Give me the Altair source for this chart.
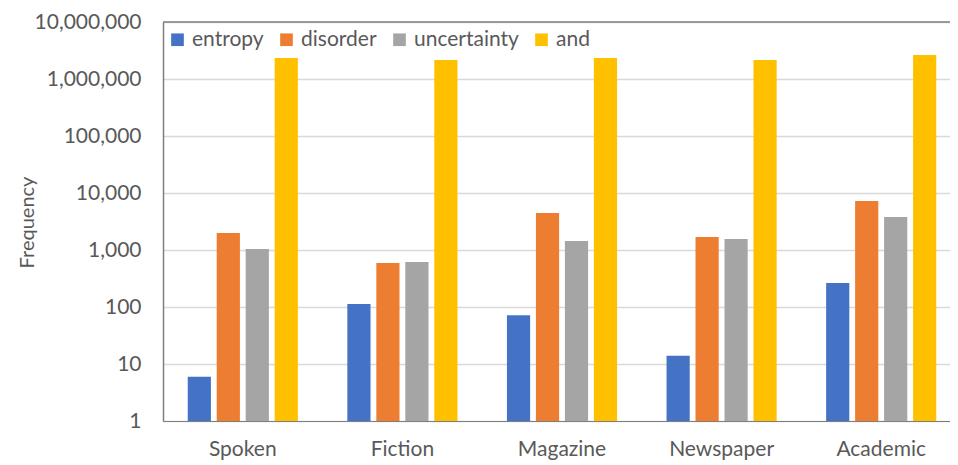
import altair as alt
import pandas as pd

genres = ["Spoken", "Fiction", "Magazine", "Newspaper", "Academic"]
series = ["entropy", "disorder", "uncertainty", "and"]
entropy = [6, 113, 72, 14, 265]
disorder = [1990, 590, 4450, 1690, 7250]
uncertainty = [1040, 615, 1440, 1560, 3800]
and_ = [2330000, 2150000, 2330000, 2150000, 2640000]
colors = ["#4472C4", "#ED7D31", "#A5A5A5", "#FFC000"]
y_ticks = [1, 10, 100, 1000, 10000, 100000, 1000000, 10000000]
y_base = 1
y_top = 10000000

rows = []
for name, vals in zip(series, [entropy, disorder, uncertainty, and_]):
    for g, v in zip(genres, vals):
        rows.append({"genre": g, "series": name, "value": v, "base": y_base})
df = pd.DataFrame(rows)

FONT = "Lato"
GRAY = "#595959"
BORDER = "#7f7f7f"

yscale = alt.Scale(type="log", domain=[1, 10000000], nice=False)

bars = alt.Chart(df).mark_bar().encode(
    x=alt.X("genre:N", sort=genres,
            scale=alt.Scale(paddingInner=0.31, paddingOuter=0.155, range=[0, 798]),
            axis=alt.Axis(title=None, labelAngle=0, labelFont=FONT, labelFontSize=21,
                          labelColor=GRAY, labelPadding=17, ticks=False,
                          domainColor=BORDER, domainWidth=1)),
    xOffset=alt.XOffset("series:N", sort=series,
                        scale=alt.Scale(paddingInner=0.2, paddingOuter=0)),
    y=alt.Y("value:Q", scale=yscale,
            axis=alt.Axis(title="Frequency", values=y_ticks, format=",",
                          labelFont=FONT, labelFontSize=21, labelColor=GRAY,
                          labelPadding=22, ticks=False, domain=True,
                          domainColor=BORDER, domainWidth=1.5,
                          titleFont=FONT, titleFontSize=20, titleColor=GRAY,
                          titleFontWeight="normal", titleX=-136, titleY=200,
                          titleAngle=270, titleAlign="center", titleBaseline="middle",
                          gridColor="#D9D9D9", gridWidth=1.5)),
    y2=alt.Y2("base:Q"),
    color=alt.Color("series:N", sort=series,
                    scale=alt.Scale(domain=series, range=colors),
                    legend=alt.Legend(title=None, orient="none", direction="horizontal",
                                      legendX=4, legendY=7, symbolType="square",
                                      symbolSize=160, symbolStrokeWidth=0,
                                      labelFont=FONT, labelFontSize=21,
                                      labelColor=GRAY, columnPadding=12,
                                      labelOffset=4)),
)

top_border = alt.Chart(pd.DataFrame({"top": [y_top]})).mark_rule(
    color=BORDER, strokeWidth=1.5
).encode(y=alt.Y("top:Q", scale=yscale))

chart = alt.layer(bars, top_border).properties(
    width=787,
    height=399,
    autosize=alt.AutoSizeParams(type="none"),
    padding={"left": 155, "top": 14, "right": 0, "bottom": 44},
).configure_view(
    stroke="transparent"
)

chart.save("out.html", embed_options={"renderer": "svg", "actions": False})
